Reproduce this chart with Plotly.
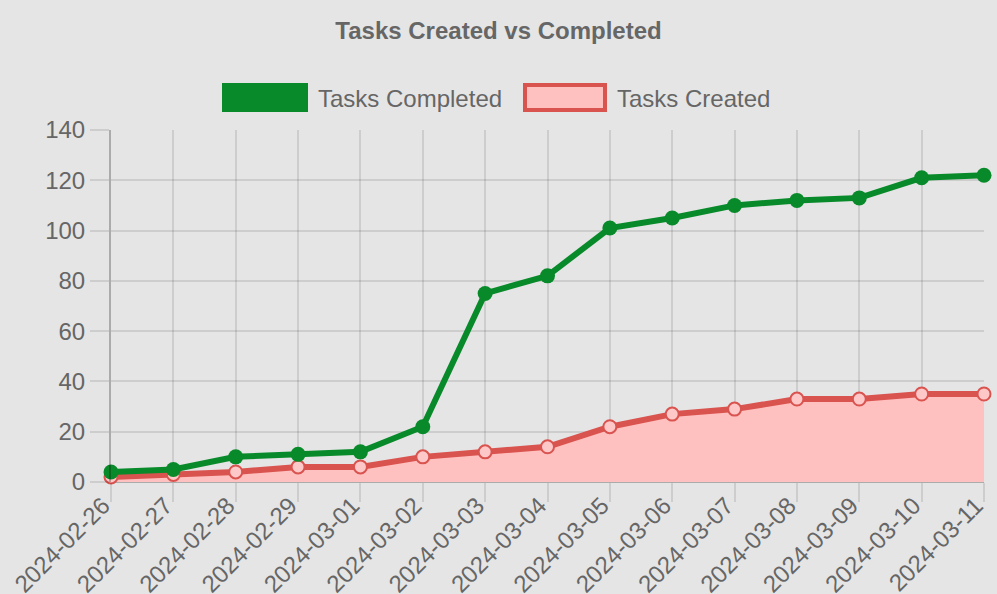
import plotly.graph_objects as go

dates = ["2024-02-26", "2024-02-27", "2024-02-28", "2024-02-29", "2024-03-01",
         "2024-03-02", "2024-03-03", "2024-03-04", "2024-03-05", "2024-03-06",
         "2024-03-07", "2024-03-08", "2024-03-09", "2024-03-10", "2024-03-11"]
completed = [4, 5, 10, 11, 12, 22, 75, 82, 101, 105, 110, 112, 113, 121, 122]
created = [2, 3, 4, 6, 6, 10, 12, 14, 22, 27, 29, 33, 33, 35, 35]
y_ticks = [0, 20, 40, 60, 80, 100, 120, 140]

W, H = 997, 594
L, R, T, B = 111, 13, 130, 112
PW, PH = W - L - R, H - T - B


def px(x):
    return (x - L) / PW


def py(y):
    return (H - B - y) / PH


GREEN = "#088a2a"
RED = "rgb(217,83,79)"
PINK = "rgb(255,192,192)"
TXT = "#666666"
FONT = "Liberation Sans, Arial, Helvetica, sans-serif"
GRID = "rgba(0,0,0,0.1)"
AXIS = "rgba(0,0,0,0.25)"
BG = "#e5e5e5"
FS = 24

fig = go.Figure()
fig.add_trace(go.Scatter(
    x=dates, y=created, mode="lines+markers", name="Tasks Created",
    fill="tozeroy", fillcolor=PINK,
    line=dict(color=RED, width=6),
    marker=dict(size=13, color="rgb(255,200,200)", line=dict(color=RED, width=2)),
    cliponaxis=False, showlegend=False,
))
fig.add_trace(go.Scatter(
    x=dates, y=completed, mode="lines+markers", name="Tasks Completed",
    line=dict(color=GREEN, width=6),
    marker=dict(size=15, color=GREEN),
    cliponaxis=False, showlegend=False,
))

shapes = [
    dict(type="rect", xref="paper", yref="paper",
         x0=px(222), x1=px(308), y0=py(112), y1=py(83),
         fillcolor=GREEN, line=dict(width=0)),
    dict(type="rect", xref="paper", yref="paper",
         x0=px(525), x1=px(605), y0=py(110), y1=py(85),
         fillcolor=PINK, line=dict(color=RED, width=4)),
]
annotations = [
    dict(text="Tasks Completed", xref="paper", yref="paper", x=px(316), y=py(98),
         xanchor="left", yanchor="middle", showarrow=False,
         font=dict(size=FS, color=TXT, family=FONT)),
    dict(text="Tasks Created", xref="paper", yref="paper", x=px(615), y=py(98),
         xanchor="left", yanchor="middle", showarrow=False,
         font=dict(size=FS, color=TXT, family=FONT)),
]

fig.update_layout(
    width=W, height=H,
    margin=dict(l=L, r=R, t=T, b=B, autoexpand=False),
    paper_bgcolor=BG, plot_bgcolor=BG,
    font=dict(family=FONT, color=TXT, size=FS),
    title=dict(text="<b>Tasks Created vs Completed</b>", x=0.5, xref="container",
               xanchor="center", y=1 - 31 / H, yref="container", yanchor="middle",
               font=dict(size=FS, color=TXT, family=FONT)),
    shapes=shapes, annotations=annotations,
    xaxis=dict(type="category", range=[0, len(dates) - 1], showgrid=True,
               gridcolor=GRID, gridwidth=2, ticks="outside", ticklen=19,
               tickwidth=2, tickcolor=GRID, tickangle=-45, zeroline=False,
               showline=False, ticklabelstandoff=-20, ticklabelshift=-8,
               tickfont=dict(size=FS, color=TXT)),
    yaxis=dict(range=[0, 140], tickvals=y_ticks, showgrid=True, gridcolor=GRID,
               gridwidth=2, ticks="outside", ticklen=19, tickwidth=2, tickcolor=GRID,
               zeroline=True, zerolinecolor=AXIS, zerolinewidth=2,
               showline=True, linecolor=AXIS, linewidth=2,
               tickfont=dict(size=FS, color=TXT)),
)

fig.write_html("out.html")
